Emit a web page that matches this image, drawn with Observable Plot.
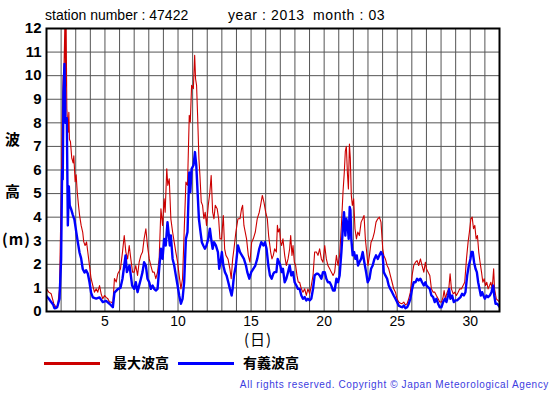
<!DOCTYPE html>
<html><head><meta charset="utf-8">
<script src="https://cdn.jsdelivr.net/npm/d3@7"></script>
<script src="https://cdn.jsdelivr.net/npm/@observablehq/plot@0.6"></script>
<style>
body{margin:0;background:#fff;}
#wrap{position:relative;width:555px;height:395px;font-family:"Liberation Sans",Arial,sans-serif;overflow:hidden;}
.abs{position:absolute;white-space:pre;line-height:1;}
.cjk{font-family:"Noto Sans CJK JP",sans-serif;font-weight:bold;}
</style></head><body>
<div id="wrap">
<div id="chart" class="abs" style="left:0;top:0"></div>
<div class="abs" style="left:45px;top:8px;font-size:14px">station number : 47422</div>
<div class="abs" style="left:228px;top:8px;font-size:14px;letter-spacing:0.6px">year : 2013</div>
<div class="abs" style="left:313px;top:8px;font-size:14px;letter-spacing:0.6px">month : 03</div>
<div class="abs cjk" style="left:5px;top:131px;font-size:15px">波</div>
<div class="abs cjk" style="left:5px;top:183px;font-size:15px">高</div>
<div class="abs cjk" style="left:2px;top:231px;font-size:15px;letter-spacing:1px">(m)</div>
<div class="abs cjk" style="left:244px;top:331px;font-size:15px;font-weight:normal;letter-spacing:1px">(日)</div>
<div class="abs" style="left:44px;top:362px;width:56px;height:3px;background:#cc0000"></div>
<div class="abs cjk" style="left:113px;top:355px;font-size:14px">最大波高</div>
<div class="abs" style="left:178px;top:362px;width:56px;height:3px;background:#0000ff"></div>
<div class="abs cjk" style="left:243px;top:355px;font-size:14px">有義波高</div>
<div class="abs" style="right:6px;top:380px;font-size:10px;letter-spacing:0.62px;color:#3c3ce0">All rights reserved. Copyright © Japan Meteorological Agency</div>
</div>
<script>
// 最大波高 (maximum wave height), day of month vs metres
const maxDay = [1.0,1.15,1.32,1.5,1.66,1.77,1.89,2.0,2.07,2.14,2.18,2.23,2.27,2.30,2.34,2.39,2.43,2.48,2.53,2.57,2.64,2.73,2.82,2.87,2.96,3.03,3.10,3.19,3.26,3.37,3.48,3.55,3.64,3.74,3.83,3.94,4.05,4.17,4.28,4.40,4.51,4.63,4.74,4.85,4.97,5.08,5.20,5.31,5.43,5.54,5.65,5.77,5.88,6.06,6.2,6.32,6.43,6.55,6.66,6.77,6.89,7.0,7.11,7.23,7.34,7.46,7.57,7.68,7.8,7.91,8.03,8.14,8.26,8.37,8.48,8.6,8.71,8.83,8.94,9.05,9.12,9.23,9.3,9.4,9.51,9.63,9.74,9.85,9.97,10.08,10.2,10.31,10.42,10.54,10.65,10.77,10.84,10.93,11.05,11.14,11.2,11.27,11.34,11.43,11.5,11.59,11.68,11.77,11.86,11.95,12.07,12.18,12.27,12.37,12.46,12.55,12.68,12.78,12.87,12.98,13.1,13.19,13.28,13.42,13.55,13.64,13.74,13.83,13.96,14.1,14.24,14.35,14.42,14.51,14.6,14.69,14.81,14.92,15.04,15.15,15.29,15.42,15.56,15.65,15.77,15.88,16.0,16.11,16.2,16.34,16.43,16.52,16.61,16.73,16.8,16.86,16.95,17.02,17.09,17.18,17.3,17.41,17.53,17.64,17.71,17.8,17.87,17.96,18.05,18.14,18.23,18.32,18.44,18.55,18.67,18.78,18.89,19.01,19.12,19.24,19.35,19.47,19.58,19.69,19.81,19.92,20.04,20.15,20.26,20.38,20.49,20.61,20.72,20.84,20.95,21.06,21.18,21.29,21.38,21.45,21.52,21.59,21.66,21.73,21.79,21.86,21.93,22.02,22.11,22.21,22.3,22.41,22.53,22.64,22.73,22.82,22.91,23.0,23.1,23.21,23.32,23.44,23.55,23.67,23.78,23.89,24.01,24.08,24.19,24.31,24.42,24.53,24.65,24.76,24.88,24.99,25.1,25.22,25.33,25.45,25.56,25.68,25.79,25.9,26.02,26.13,26.25,26.36,26.47,26.59,26.7,26.82,26.93,27.0,27.11,27.23,27.34,27.46,27.57,27.68,27.8,27.91,28.03,28.14,28.21,28.3,28.42,28.53,28.62,28.71,28.83,28.94,29.05,29.17,29.28,29.4,29.51,29.62,29.74,29.85,29.94,30.04,30.13,30.22,30.31,30.4,30.49,30.58,30.67,30.77,30.86,30.95,31.04,31.13,31.22,31.32,31.41,31.5,31.6,31.66,31.78,31.89,32.0];
const maxHeight = [0.96,0.82,0.75,0.33,0.18,0.25,0.96,4.8,7.9,10.0,9.9,11.3,12.6,9.5,12.5,8.6,8.2,7.6,8.45,7.3,7.2,6.5,6.3,6.6,5.5,5.8,5.1,4.5,4.1,3.65,3.35,2.95,2.8,2.95,2.5,1.95,1.4,1.1,0.82,0.96,0.82,1.1,0.75,0.54,0.68,0.6,0.54,0.4,0.4,0.33,1.4,1.25,1.6,1.8,2.52,3.22,2.52,2.23,2.8,2.23,1.67,1.67,1.95,1.53,2.09,2.38,2.52,3.08,3.51,2.8,2.23,1.95,1.67,1.67,1.39,1.67,2.23,4.36,3.65,4.78,4.21,6.05,5.35,5.63,3.93,3.37,2.94,2.52,2.09,1.53,0.96,1.39,3.37,5.49,5.35,8.32,8.03,9.59,9.45,10.86,9.87,9.59,8.32,6.48,5.77,4.64,4.5,3.93,4.21,3.65,4.5,5.06,5.77,4.21,3.93,4.5,4.36,3.93,3.08,3.08,4.07,2.66,2.38,2.23,1.81,1.39,2.23,2.66,3.37,3.93,3.93,4.36,4.5,3.65,3.37,3.08,2.38,2.09,2.94,3.08,3.37,3.93,4.21,4.5,4.92,4.64,4.21,3.93,3.22,2.52,2.23,2.38,2.66,2.52,3.65,3.37,3.51,2.94,2.8,3.08,2.38,1.95,2.23,2.66,3.22,2.38,2.8,2.09,1.95,1.53,1.24,1.24,0.96,0.82,0.96,0.68,0.96,0.75,1.1,1.53,2.52,2.52,2.38,2.66,2.23,2.09,2.8,2.23,1.95,1.81,1.67,1.53,1.67,2.38,1.95,2.38,3.65,5.06,5.91,6.8,7.0,5.9,5.2,7.1,6.5,4.92,4.5,4.78,3.51,3.08,3.37,3.22,3.79,3.93,4.07,3.08,2.52,1.95,2.38,2.94,3.08,3.37,3.79,3.93,4.0,3.79,2.66,2.38,2.23,1.95,1.81,1.53,1.24,0.96,0.82,0.54,0.4,0.35,0.33,0.4,0.28,0.33,0.54,0.82,1.53,1.95,2.09,2.16,1.95,2.23,1.95,1.67,2.09,1.81,1.67,1.53,0.96,0.82,0.82,0.68,0.54,0.4,0.4,0.61,0.89,0.54,0.82,0.96,1.6,0.96,0.75,0.82,0.68,0.82,0.96,0.96,1.1,1.24,2.23,2.94,3.37,3.93,4.0,3.51,3.65,3.08,3.22,2.52,2.09,1.67,1.24,1.39,1.1,1.24,0.96,1.1,1.24,0.96,1.81,0.96,0.54,0.47,0.4];

// 有義波高 (significant wave height), day of month vs metres
const sigDay = [1.0,1.15,1.32,1.45,1.54,1.65,1.73,1.89,2.0,2.07,2.11,2.16,2.23,2.30,2.39,2.46,2.53,2.59,2.68,2.80,2.91,3.03,3.14,3.26,3.37,3.48,3.60,3.71,3.83,3.94,4.05,4.17,4.40,4.63,4.85,5.08,5.31,5.54,5.65,5.88,6.06,6.2,6.32,6.41,6.5,6.59,6.68,6.77,6.86,7.0,7.11,7.23,7.34,7.46,7.57,7.68,7.8,7.91,8.03,8.14,8.26,8.37,8.48,8.6,8.71,8.83,8.94,9.05,9.16,9.28,9.35,9.44,9.51,9.63,9.74,9.85,9.97,10.08,10.2,10.31,10.42,10.54,10.65,10.77,10.84,10.93,11.06,11.16,11.25,11.34,11.43,11.54,11.63,11.73,11.84,11.95,12.07,12.18,12.27,12.37,12.46,12.59,12.73,12.82,12.91,13.0,13.1,13.21,13.32,13.44,13.55,13.67,13.74,13.83,13.96,14.1,14.24,14.37,14.51,14.65,14.74,14.88,15.01,15.15,15.29,15.42,15.56,15.7,15.84,15.95,16.06,16.18,16.29,16.41,16.52,16.61,16.73,16.82,16.91,17.0,17.09,17.18,17.3,17.41,17.53,17.64,17.75,17.87,17.98,18.1,18.21,18.32,18.44,18.55,18.67,18.78,18.89,19.01,19.12,19.24,19.35,19.47,19.58,19.69,19.81,19.92,20.04,20.15,20.26,20.38,20.49,20.61,20.72,20.84,20.95,21.06,21.18,21.29,21.36,21.45,21.52,21.61,21.68,21.75,21.8,21.86,21.95,22.05,22.14,22.23,22.32,22.41,22.53,22.64,22.75,22.87,22.98,23.1,23.21,23.32,23.44,23.55,23.67,23.78,23.89,24.01,24.08,24.19,24.31,24.42,24.53,24.65,24.76,24.88,24.99,25.1,25.22,25.33,25.45,25.56,25.68,25.79,25.9,26.02,26.13,26.25,26.36,26.47,26.59,26.7,26.82,26.93,27.0,27.11,27.23,27.34,27.46,27.57,27.68,27.8,27.91,28.03,28.14,28.26,28.37,28.48,28.55,28.64,28.76,28.87,28.99,29.1,29.21,29.33,29.44,29.56,29.67,29.79,29.9,30.01,30.08,30.17,30.26,30.36,30.45,30.54,30.63,30.72,30.81,30.9,31.0,31.11,31.22,31.34,31.45,31.57,31.64,31.73,31.84,31.95,32.0];
const sigHeight = [0.65,0.55,0.4,0.3,0.14,0.15,0.18,0.54,2.2,6.0,5.6,9.3,10.5,8.0,8.2,3.65,5.3,4.5,4.35,4.1,3.9,3.4,2.95,2.5,2.25,1.8,1.65,1.75,1.6,1.25,0.8,0.6,0.55,0.6,0.4,0.45,0.33,0.18,0.8,0.95,1.0,1.39,1.95,2.38,1.67,1.81,1.95,1.53,1.1,0.96,1.24,0.82,1.1,1.39,1.67,2.09,1.95,1.39,1.24,0.96,1.1,0.96,0.89,0.96,1.81,2.66,2.23,3.08,2.8,3.79,3.37,2.8,3.22,2.23,1.95,1.53,1.1,0.68,0.33,0.54,1.24,3.08,3.37,5.9,5.06,6.05,6.2,6.76,6.2,5.06,3.93,3.37,2.94,2.8,2.66,2.8,3.08,3.51,3.08,2.66,2.94,2.8,2.52,1.81,2.09,2.52,1.95,1.67,1.53,1.24,0.96,0.68,0.96,1.53,1.95,2.8,2.52,2.38,2.23,1.95,1.67,1.39,1.67,1.81,1.95,2.23,2.66,2.94,2.8,2.94,2.66,1.95,1.53,1.39,1.6,1.67,1.67,2.23,2.09,1.95,1.67,1.81,1.24,1.39,1.67,1.95,1.53,1.67,1.24,1.1,0.96,0.96,0.68,0.54,0.61,0.47,0.54,0.47,0.54,0.96,1.53,1.6,1.6,1.53,1.39,1.67,1.67,1.39,1.24,1.24,1.1,0.89,0.89,1.39,1.24,1.53,2.52,3.65,4.21,3.22,3.93,3.65,3.08,4.43,4.3,3.08,2.38,2.52,2.23,2.38,1.95,2.09,2.23,2.52,2.09,1.67,1.24,1.39,1.81,1.95,2.23,2.38,2.23,2.38,2.52,2.38,1.67,1.53,1.39,1.1,0.96,0.82,0.68,0.54,0.4,0.25,0.21,0.18,0.25,0.14,0.18,0.33,0.54,0.96,1.24,1.24,1.39,1.32,1.39,1.24,1.1,1.24,1.1,1.03,0.96,0.68,0.61,0.4,0.54,0.33,0.18,0.18,0.4,0.54,0.4,0.68,0.96,0.54,0.68,0.4,0.47,0.47,0.54,0.61,0.75,0.68,0.82,1.53,1.95,2.23,2.52,2.52,2.09,1.81,1.67,1.24,0.96,0.68,0.82,0.68,0.54,0.68,0.61,0.68,0.82,1.1,0.68,0.33,0.33,0.25,0.2];

const dayTicks = [5,10,15,20,25,30];
const heightTicks = [0,1,2,3,4,5,6,7,8,9,10,11,12];
const dayGrid = d3.range(1, 33);

const maxData = maxDay.map((d, i) => ({day: d, h: maxHeight[i]}));
const sigData = sigDay.map((d, i) => ({day: d, h: sigHeight[i]}));

const chart = Plot.plot({
  width: 555,
  height: 345,
  marginLeft: 46,
  marginRight: 56,
  marginTop: 28,
  marginBottom: 34,
  style: {fontFamily: '"Liberation Sans", Arial, sans-serif', background: "transparent"},
  x: {domain: [1, 32]},
  y: {domain: [0, 12]},
  marks: [
    Plot.gridX(dayGrid, {stroke: "#555", strokeOpacity: 1, strokeWidth: 1}),
    Plot.gridY(heightTicks, {stroke: "#555", strokeOpacity: 1, strokeWidth: 1}),
    Plot.line(maxData, {x: "day", y: "h", stroke: "#cc0000", strokeWidth: 1.1, clip: true}),
    Plot.line(sigData, {x: "day", y: "h", stroke: "#0000ff", strokeWidth: 2.4, clip: true}),
    Plot.frame({stroke: "#000", strokeWidth: 2}),
    Plot.axisY(heightTicks, {tickSize: 0, tickPadding: 5, fontSize: 15, fontWeight: "bold", fill: "#000", label: null}),
    Plot.axisX(dayTicks, {tickSize: 0, tickPadding: 5, fontSize: 14, fill: "#000", label: null})
  ]
});
document.getElementById("chart").appendChild(chart);
</script>
</body></html>
